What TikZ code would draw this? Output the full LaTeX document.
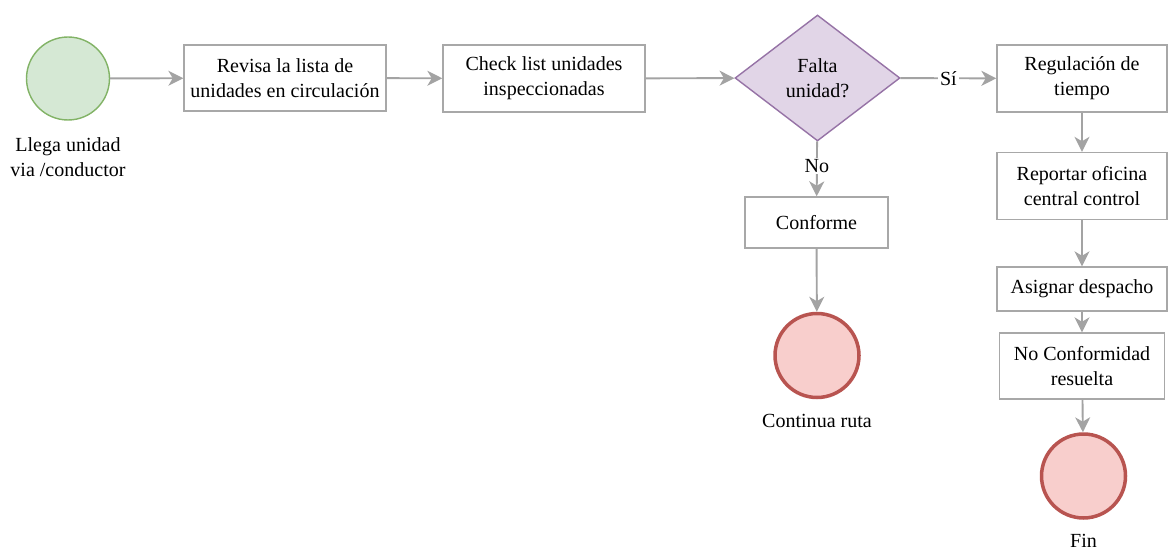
\documentclass[tikz,border=0pt]{standalone}
\usepackage{fontspec}
\setmainfont{Liberation Serif}
\usetikzlibrary{arrows.meta,shapes.geometric}
\definecolor{lineagris}{HTML}{A3A3A3}
\definecolor{bordegris}{HTML}{A8A8A8}
\definecolor{verdefondo}{HTML}{D5E8D4}
\definecolor{verdeborde}{HTML}{82B366}
\definecolor{rojofondo}{HTML}{F8CECC}
\definecolor{rojoborde}{HTML}{B85450}
\definecolor{lilafondo}{HTML}{E1D5E7}
\definecolor{lilaborde}{HTML}{9673A6}

\begin{document}
\begin{tikzpicture}[x=0.02cm, y=-0.02cm,
	every node/.style={font=\fontsize{11.4}{14.2}\selectfont, align=center},
	paso/.style={draw=bordegris, line width=0.8pt, fill=white, inner sep=0pt, minimum width=3.4cm, minimum height=1.34cm},
	inicio/.style={circle, draw=verdeborde, line width=0.8pt, fill=verdefondo, minimum size=1.66cm, inner sep=0pt},
	final/.style={circle, draw=rojoborde, line width=2pt, fill=rojofondo, minimum size=1.68cm, inner sep=0pt},
	pregunta/.style={diamond, draw=lilaborde, line width=0.8pt, fill=lilafondo, minimum width=3.3cm, minimum height=2.52cm, inner sep=0pt},
	flecha/.style={draw=lineagris, line width=1.1pt, -{Stealth[length=8.5pt, width=8.5pt, inset=2.5pt]}},
	etiqueta/.style={fill=white, inner sep=1pt}]
			%%%%% START %%%%%
			
			\useasboundingbox (0, 0) rectangle (1169, 550);
			
			\node[inicio] (llega) at (68, 78.5) {};
			\node (llegatxt) at (68, 157) {Llega unidad\\via /conductor};
			
			\node[paso, minimum width=4.04cm, minimum height=1.32cm] (revisa) at (285, 78) {Revisa la lista de\\unidades en circulación};
			\node[paso, minimum width=4.04cm, minimum height=1.34cm] (check) at (544, 78.5) {Check list unidades\\inspeccionadas};
			\node[pregunta] (falta) at (817.5, 78) {Falta\\unidad?};
			
			\node[paso, minimum width=2.86cm, minimum height=1.02cm] (conforme) at (816.5, 222.5) {Conforme};
			\node[final] (sigue) at (817, 355.5) {};
			\node (siguetxt) at (817, 421) {Continua ruta};
			
			\node[paso] (regula) at (1082, 78.5) {Regulación de\\tiempo};
			\node[paso] (reporta) at (1082, 186) {Reportar oficina\\central control};
			\node[paso, minimum height=0.88cm] (asigna) at (1082, 289) {Asignar despacho};
			\node[paso, minimum width=3.3cm, minimum height=1.32cm] (noconf) at (1082, 366) {No Conformidad\\resuelta};
			\node[final] (fin) at (1083.5, 476) {};
			\node (fintxt) at (1083.5, 541) {Fin};
			
			\draw[flecha] (llega) -- (revisa);
			\draw[flecha] (revisa) -- (check);
			\draw[flecha] (check) -- (falta);
			\draw[flecha] (falta) -- node[etiqueta] {Sí} (regula);
			\draw[flecha] (falta) -- node[etiqueta, pos=0.45] {No} (conforme);
			\draw[flecha] (conforme) -- (sigue);
			
			\draw[flecha] (regula) -- (reporta);
			\draw[flecha] (reporta) -- (asigna);
			\draw[flecha] (asigna) -- (noconf);
			\draw[flecha] (noconf) -- (fin);
			
			%%%%% END %%%%%
\end{tikzpicture}
\end{document}
